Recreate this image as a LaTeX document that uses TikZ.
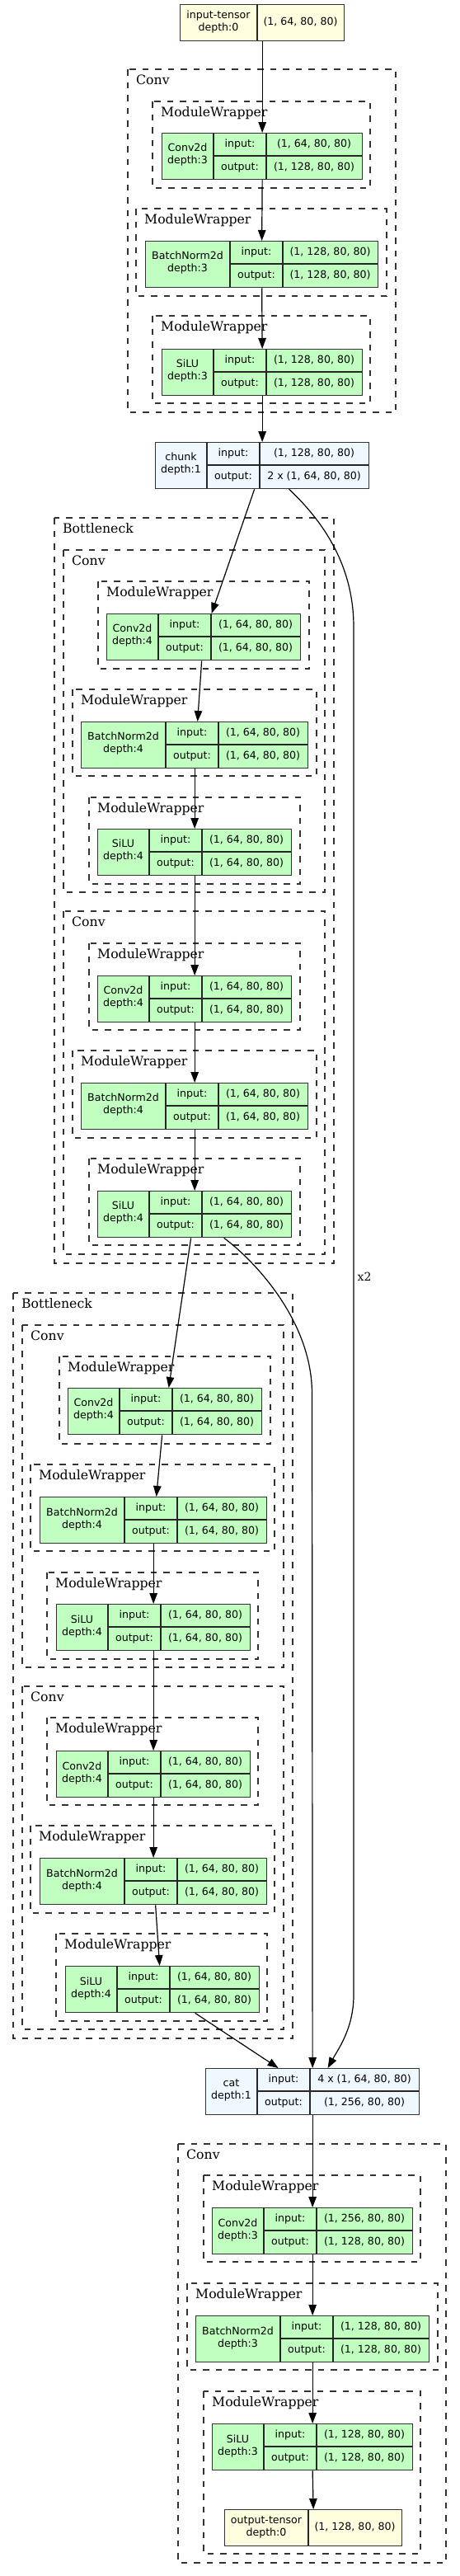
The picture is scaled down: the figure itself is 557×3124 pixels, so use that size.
\documentclass[tikz,border=0pt]{standalone}
\usepackage{fontspec}
\newfontfamily\boxfont{DejaVu Sans}
\newfontfamily\groupfont{DejaVu Serif}
\usetikzlibrary{arrows.meta}

\definecolor{modfill}{HTML}{C1FFC1}
\definecolor{tensfill}{HTML}{FFFFE0}
\definecolor{funcfill}{HTML}{F0F8FF}
\definecolor{rim}{HTML}{333333}

% record: name, fill, left, top, column widths, title; then input and output shape
\newcommand{\layernode}[8]{%
\def\lnname{#1}\def\lnfill{#2}\def\lnx{#3}\def\lny{#4}%
\def\lna{#5}\def\lnb{#6}\def\lnc{#7}\def\lntitle{#8}%
\layernodeio}
\newcommand{\layernodeio}[2]{%
\node[recbox, fill=\lnfill, minimum width={(\lna+\lnb+\lnc)*1pt}, minimum height=56pt]
at (\lnx,\lny) (\lnname) {};
\draw[recline]
(\lnx+\lna,\lny) -- ++(0,56)
(\lnx+\lna+\lnb,\lny) -- ++(0,56)
(\lnx+\lna,\lny+28) -- ++(\lnb+\lnc,0)
;
\path[every node/.style={rectext}]
(\lnx+\lna/2,\lny+27) node[align=center] (\lnname-title) {\lntitle}
(\lnx+\lna+\lnb/2,\lny+14) node (\lnname-in) {input:}
(\lnx+\lna+\lnb+\lnc/2,\lny+14) node (\lnname-inval) {#1}
(\lnx+\lna+\lnb/2,\lny+42) node (\lnname-out) {output:}
(\lnx+\lna+\lnb+\lnc/2,\lny+42) node (\lnname-outval) {#2}
;
}

% tensor: name, left, top, column widths, title, shape
\newcommand{\tensornode}[7]{%
\node[recbox, fill=tensfill, minimum width={(#4+#5)*1pt}, minimum height=43.5pt]
at (#2,#3) (#1) {};
\draw[recline] (#2+#4,#3) -- ++(0,43.5);
\path[every node/.style={rectext}]
(#2+#4/2,#3+21.5) node[align=center] (#1-title) {#6}
(#2+#4+#5/2,#3+21.5) node (#1-val) {#7}
;
}

% dashed group: name, left, top, right, bottom, label
\newcommand{\modgroup}[6]{%
\draw[groupline] (#2,#3) rectangle (#4,#5);
\node[grouplabel] at (#2+10,#3+18) (#1) {#6};
}

\begin{document}
\begin{tikzpicture}[
x=1pt, y=-1pt,
recbox/.style={
rectangle,
draw=rim,
line width=1.3pt,
anchor=north west,
inner sep=0 pt,
},
recline/.style={draw=black!85, line width=1.3pt},
rectext/.style={inner sep=0 pt, font={\boxfont\fontsize{12.6pt}{15pt}\selectfont}},
groupline/.style={draw=rim, line width=1.3pt, dash pattern=on 7.5pt off 8pt},
grouplabel/.style={anchor=base west, inner sep=0 pt, font={\groupfont\fontsize{15.7pt}{18pt}\selectfont}},
flow/.style={draw=black, line width=1.2pt, -{Triangle[length=13pt, width=9.5pt]}},
]

\useasboundingbox[fill=white] (0,0) rectangle (557,3124);

% groups
\modgroup{convTop}{155}{84}{480}{500}{Conv}
\modgroup{neckOne}{66}{628}{405}{1532}{Bottleneck}
\modgroup{convOneA}{77}{667}{394}{1082}{Conv}
\modgroup{convOneB}{77}{1105}{394}{1521}{Conv}
\modgroup{neckTwo}{16}{1568}{355}{2472}{Bottleneck}
\modgroup{convTwoA}{27}{1607}{344}{2022}{Conv}
\modgroup{convTwoB}{27}{2045}{344}{2461}{Conv}
\modgroup{convLast}{216}{2600}{541}{3108}{Conv}

\foreach \n/\l/\t/\r/\b in {
wrapA/185/123/449/228, wrapB/165/253/469/359, wrapC/185/383/449/489,
wrapD/119/705/375/811, wrapE/88/836/384/941, wrapF/108/967/364/1072,
wrapG/108/1144/364/1249, wrapH/88/1274/384/1380, wrapI/108/1405/364/1510,
wrapJ/72/1645/328/1751, wrapK/37/1776/333/1881, wrapL/57/1907/313/2012,
wrapM/57/2083/313/2189, wrapN/37/2214/333/2320, wrapO/68/2345/324/2451,
wrapP/247/2638/510/2743, wrapQ/227/2769/531/2874, wrapR/247/2900/510/3097}
{\modgroup{\n}{\l}{\t}{\r}{\b}{ModuleWrapper}}

% records
\tensornode{intensor}{218}{5}{94}{105}{input-tensor\\depth:0}{(1, 64, 80, 80)}

\layernode{convA}{modfill}{196}{161}{63}{64}{116}{Conv2d\\depth:3}{(1, 64, 80, 80)}{(1, 128, 80, 80)}
\layernode{bnA}{modfill}{176}{292}{103}{64}{115}{BatchNorm2d\\depth:3}{(1, 128, 80, 80)}{(1, 128, 80, 80)}
\layernode{siluA}{modfill}{196}{423}{63}{64}{116}{SiLU\\depth:3}{(1, 128, 80, 80)}{(1, 128, 80, 80)}

\layernode{chunk}{funcfill}{188}{536}{63}{64}{132}{chunk\\depth:1}{(1, 128, 80, 80)}{2 x (1, 64, 80, 80)}

\layernode{convB}{modfill}{129}{744}{63}{64}{108}{Conv2d\\depth:4}{(1, 64, 80, 80)}{(1, 64, 80, 80)}
\layernode{bnB}{modfill}{98}{875}{103}{64}{108}{BatchNorm2d\\depth:4}{(1, 64, 80, 80)}{(1, 64, 80, 80)}
\layernode{siluB}{modfill}{118}{1005}{63}{64}{108}{SiLU\\depth:4}{(1, 64, 80, 80)}{(1, 64, 80, 80)}
\layernode{convC}{modfill}{118}{1183}{63}{64}{108}{Conv2d\\depth:4}{(1, 64, 80, 80)}{(1, 64, 80, 80)}
\layernode{bnC}{modfill}{98}{1313}{103}{64}{108}{BatchNorm2d\\depth:4}{(1, 64, 80, 80)}{(1, 64, 80, 80)}
\layernode{siluC}{modfill}{118}{1444}{63}{64}{108}{SiLU\\depth:4}{(1, 64, 80, 80)}{(1, 64, 80, 80)}

\layernode{convD}{modfill}{82}{1683}{63}{64}{108}{Conv2d\\depth:4}{(1, 64, 80, 80)}{(1, 64, 80, 80)}
\layernode{bnD}{modfill}{48}{1815}{103}{64}{108}{BatchNorm2d\\depth:4}{(1, 64, 80, 80)}{(1, 64, 80, 80)}
\layernode{siluD}{modfill}{68}{1945}{63}{64}{108}{SiLU\\depth:4}{(1, 64, 80, 80)}{(1, 64, 80, 80)}
\layernode{convE}{modfill}{68}{2123}{63}{64}{108}{Conv2d\\depth:4}{(1, 64, 80, 80)}{(1, 64, 80, 80)}
\layernode{bnE}{modfill}{48}{2253}{103}{64}{108}{BatchNorm2d\\depth:4}{(1, 64, 80, 80)}{(1, 64, 80, 80)}
\layernode{siluE}{modfill}{79}{2384}{63}{64}{108}{SiLU\\depth:4}{(1, 64, 80, 80)}{(1, 64, 80, 80)}

\layernode{cat}{funcfill}{249}{2508}{63}{64}{132}{cat\\depth:1}{4 x (1, 64, 80, 80)}{(1, 256, 80, 80)}

\layernode{convF}{modfill}{257}{2677}{63}{64}{116}{Conv2d\\depth:3}{(1, 256, 80, 80)}{(1, 128, 80, 80)}
\layernode{bnF}{modfill}{237}{2808}{103}{64}{116}{BatchNorm2d\\depth:3}{(1, 128, 80, 80)}{(1, 128, 80, 80)}
\layernode{siluF}{modfill}{257}{2939}{63}{64}{116}{SiLU\\depth:3}{(1, 128, 80, 80)}{(1, 128, 80, 80)}

\tensornode{outtensor}{272}{3043}{102}{113}{output-tensor\\depth:0}{(1, 128, 80, 80)}

% main chain
\draw[flow] (intensor.south) -- (convA.north);
\draw[flow] (convA.south) -- (bnA.north);
\draw[flow] (bnA.south) -- (siluA.north);
\draw[flow] (siluA.south) -- (chunk.north);

\draw[flow] ([xshift=-9.5pt]chunk.south) -- ([xshift=9.5pt]convB.north);
\draw[flow] ([xshift=-2.5pt]convB.south) -- ([xshift=3.5pt]bnB.north);
\draw[flow] (bnB.south) -- (siluB.north);
\draw[flow] (siluB.south) -- (convC.north);
\draw[flow] (convC.south) -- (bnC.north);
\draw[flow] (bnC.south) -- (siluC.north);

\draw[flow] ([xshift=-4.5pt]siluC.south) -- ([xshift=4.5pt]convD.north);
\draw[flow] ([xshift=-3.5pt]convD.south) -- ([xshift=3.5pt]bnD.north);
\draw[flow] (bnD.south) -- (siluD.north);
\draw[flow] (siluD.south) -- (convE.north);
\draw[flow] (convE.south) -- (bnE.north);
\draw[flow] ([xshift=2.5pt]bnE.south) -- ([xshift=-3.5pt]siluE.north);
\draw[flow] ([xshift=39.5pt]siluE.south) -- ([xshift=-41.5pt]cat.north);

\draw[flow] (cat.south) -- (convF.north);
\draw[flow] (convF.south) -- (bnF.north);
\draw[flow] (bnF.south) -- (siluF.north);
\draw[flow] (siluF.south) -- (outtensor.north);

% skip connections
\draw[flow] ([xshift=32.5pt]chunk.south)
.. controls +(35,33) and +(0,-80) .. (429,760)
-- node[pos=0.475, anchor=west, inner sep=0 pt, xshift=4pt,
font={\groupfont\fontsize{14pt}{16pt}\selectfont}] (reps) {x2}
(429,2420)
.. controls +(0,40) and +(12,-22) .. ([xshift=18.5pt]cat.north);
\draw[flow] ([xshift=35.5pt]siluC.south)
.. controls +(34,25) and +(0,-90) .. (378.5,1690)
-- (cat.north);

\end{tikzpicture}
\end{document}
